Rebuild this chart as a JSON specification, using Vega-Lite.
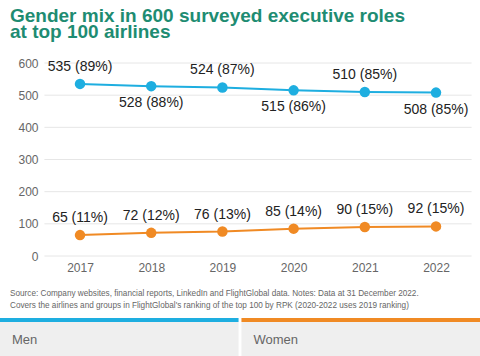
{
  "$schema": "https://vega.github.io/schema/vega-lite/v6.json",
  "padding": {"left": 0, "top": 7, "right": 0, "bottom": 0},
  "background": "white",
  "config": {"view": {"stroke": null}, "font": "Liberation Sans"},
  "datasets": {
    "roles": [
      {"year": 2017, "gender": "Men", "value": 535, "label": "535 (89%)"},
      {"year": 2018, "gender": "Men", "value": 528, "label": "528 (88%)"},
      {"year": 2019, "gender": "Men", "value": 524, "label": "524 (87%)"},
      {"year": 2020, "gender": "Men", "value": 515, "label": "515 (86%)"},
      {"year": 2021, "gender": "Men", "value": 510, "label": "510 (85%)"},
      {"year": 2022, "gender": "Men", "value": 508, "label": "508 (85%)"},
      {"year": 2017, "gender": "Women", "value": 65, "label": "65 (11%)"},
      {"year": 2018, "gender": "Women", "value": 72, "label": "72 (12%)"},
      {"year": 2019, "gender": "Women", "value": 76, "label": "76 (13%)"},
      {"year": 2020, "gender": "Women", "value": 85, "label": "85 (14%)"},
      {"year": 2021, "gender": "Women", "value": 90, "label": "90 (15%)"},
      {"year": 2022, "gender": "Women", "value": 92, "label": "92 (15%)"}
    ],
    "gridlines": [
      {"tick": 0}, {"tick": 100}, {"tick": 200}, {"tick": 300}, {"tick": 400}, {"tick": 500}, {"tick": 600}
    ],
    "legend": [
      {"gender": "Men"},
      {"gender": "Women"}
    ]
  },
  "title": {
    "text": ["Gender mix in 600 surveyed executive roles", "at top 100 airlines"],
    "anchor": "start",
    "dx": 10,
    "fontSize": 19,
    "fontWeight": "bold",
    "color": "#1e8c72",
    "lineHeight": 16,
    "offset": 15
  },
  "spacing": 15,
  "vconcat": [
    {
      "width": 480,
      "height": 193,
      "layer": [
        {
          "data": {"name": "gridlines"},
          "mark": {"type": "rule", "color": "#e6e6e6", "strokeWidth": 1},
          "encoding": {
            "y": {
              "field": "tick", "type": "quantitative",
              "scale": {"domain": [0, 600], "nice": false},
              "axis": {"title": null, "domain": false, "ticks": false, "grid": false, "values": [0, 100, 200, 300, 400, 500, 600], "labelColor": "#666666", "labelFontSize": 12, "labelPadding": 7, "offset": -45, "labelOverlap": false, "labelFlush": false}
            },
            "x": {"datum": 2016.5, "type": "quantitative"},
            "x2": {"datum": 2022.5}
          }
        },
        {
          "data": {"name": "roles"},
          "encoding": {
            "x": {
              "field": "year", "type": "quantitative",
              "scale": {"domain": [2015.876, 2022.618], "nice": false, "zero": false},
              "axis": {"title": null, "domain": false, "ticks": false, "grid": false, "values": [2017, 2018, 2019, 2020, 2021, 2022], "format": "d", "labelColor": "#666666", "labelFontSize": 12, "labelPadding": 6, "labelFlush": false, "labelOverlap": false}
            },
            "y": {
              "field": "value", "type": "quantitative",
              "scale": {"domain": [0, 600], "nice": false},
              "axis": {"title": null, "domain": false, "ticks": false, "grid": false, "values": [0, 100, 200, 300, 400, 500, 600], "labelColor": "#666666", "labelFontSize": 12, "labelPadding": 7, "offset": -45, "labelOverlap": false, "labelFlush": false}
            },
            "color": {
              "field": "gender", "type": "nominal",
              "scale": {"domain": ["Men", "Women"], "range": ["#1eaee0", "#f08a24"]},
              "legend": null
            }
          },
          "layer": [
            {"mark": {"type": "line", "strokeWidth": 2}},
            {"mark": {"type": "point", "filled": true, "size": 110, "opacity": 1}},
            {
              "transform": [{"filter": "!(datum.gender == 'Men' && (datum.year == 2018 || datum.year == 2020 || datum.year == 2022))"}],
              "mark": {"type": "text", "dy": -17, "fontSize": 14, "baseline": "middle"},
              "encoding": {"text": {"field": "label"}, "color": {"value": "#222222"}}
            },
            {
              "transform": [{"filter": "datum.gender == 'Men' && (datum.year == 2018 || datum.year == 2020 || datum.year == 2022)"}],
              "mark": {"type": "text", "dy": 17, "fontSize": 14, "baseline": "middle"},
              "encoding": {"text": {"field": "label"}, "color": {"value": "#222222"}}
            }
          ]
        }
      ]
    },
    {
      "width": 480,
      "height": 40,
      "title": {
        "text": ["Source: Company websites, financial reports, LinkedIn and FlightGlobal data. Notes: Data at 31 December 2022.", "Covers the airlines and groups in FlightGlobal's ranking of the top 100 by RPK (2020-2022 uses 2019 ranking)"],
        "anchor": "start",
        "dx": 10,
        "fontSize": 8.2,
        "fontWeight": "normal",
        "color": "#666666",
        "lineHeight": 12,
        "offset": 8
      },
      "data": {"name": "legend"},
      "encoding": {
        "x": {"field": "gender", "type": "nominal", "scale": {"paddingInner": 0.012, "paddingOuter": 0}, "axis": null}
      },
      "layer": [
        {
          "mark": {"type": "bar", "color": "#efefef"},
          "encoding": {
            "y": {"datum": 0.9, "type": "quantitative", "scale": {"domain": [0, 1], "nice": false}, "axis": null},
            "y2": {"datum": 0}
          }
        },
        {
          "mark": {"type": "bar"},
          "encoding": {
            "y": {"datum": 1, "type": "quantitative", "axis": null},
            "y2": {"datum": 0.9},
            "color": {"field": "gender", "type": "nominal", "scale": {"domain": ["Men", "Women"], "range": ["#1eaee0", "#f08a24"]}, "legend": null}
          }
        },
        {
          "mark": {"type": "text", "align": "left", "baseline": "middle", "dx": 12, "fontSize": 13, "color": "#666666"},
          "encoding": {
            "x": {"field": "gender", "type": "nominal", "bandPosition": 0},
            "y": {"datum": 0.45, "type": "quantitative"},
            "text": {"field": "gender"}
          }
        }
      ]
    }
  ]
}
